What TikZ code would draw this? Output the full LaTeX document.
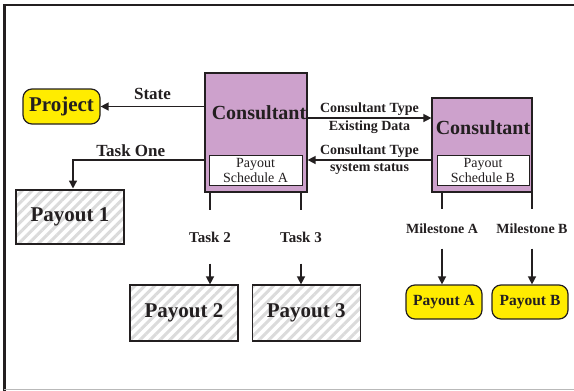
\documentclass[tikz,border=0pt]{standalone}
\usepackage{fontspec}
\setmainfont{Liberation Serif}
\usetikzlibrary{arrows.meta,patterns.meta,positioning}

\definecolor{consPurple}{RGB}{205,161,204}
\definecolor{payYellow}{RGB}{255,236,0}
\definecolor{ink}{RGB}{35,31,32}

\begin{document}
\begin{tikzpicture}[x=1pt,y=-1pt,>={Triangle[length=8pt,width=8pt]},color=ink,line width=1.4pt]
 \tikzstyle{cons}=[draw=ink,fill=consPurple,line width=1.2pt,inner sep=0pt]
 \tikzstyle{sched}=[draw=ink,fill=white,line width=1pt,inner sep=0pt,align=center,minimum height=30pt,font=\fontsize{14}{15}\selectfont]
 \tikzstyle{title}=[inner sep=0pt,font=\bfseries\fontsize{20}{24}\selectfont]
 \tikzstyle{goal}=[draw=ink,fill=payYellow,rounded corners=9pt,line width=1.2pt,inner sep=0pt,font=\bfseries]
 \tikzstyle{hatch}=[draw=ink,line width=1.2pt,inner sep=0pt,minimum width=108pt,pattern={Lines[angle=45,distance=7pt,line width=3pt]},pattern color=gray!28,font=\bfseries\fontsize{21}{24}\selectfont]
 \tikzstyle{lbl}=[inner sep=1pt,font=\bfseries\fontsize{17}{20}\selectfont]
 \tikzstyle{small}=[inner sep=1pt,font=\bfseries\fontsize{14}{16}\selectfont]
 \tikzstyle{task}=[inner sep=0pt,minimum height=52pt,font=\bfseries\fontsize{15}{18}\selectfont]
 \tikzstyle{mile}=[inner sep=0pt,minimum height=38pt,font=\bfseries\fontsize{14}{16}\selectfont]

\fill[white] (0,0) rectangle (574,391);
\useasboundingbox (0,0) rectangle (574,391);
\draw[line width=2.6pt] (574,5) -- (4.2,5) -- (4.2,391);
\draw[gray!55,line width=1pt] (4.2,389.5) -- (574,389.5);

% consultants
\node[cons,minimum width=102pt,minimum height=119pt] (consA) at (256,132.5) {};
\node[title]  (consAtxt) at (259,113)   {Consultant};
\node[sched,minimum width=93pt] (schedA) at (255.5,170) {Payout\\Schedule A};

\node[cons,minimum width=100pt,minimum height=94pt] (consB) at (482,145) {};
\node[title]  (consBtxt) at (483,127.5) {Consultant};
\node[sched,minimum width=92pt] (schedB) at (483,170) {Payout\\Schedule B};

% targets
\node[goal,minimum width=77pt,minimum height=35pt,font=\bfseries\fontsize{21}{24}\selectfont] (proj) at (61.5,106.5) {Project};
\node[hatch,minimum height=54pt] (pay1) at (70,217)  {Payout 1};
\node[hatch,minimum height=56pt] (pay2) at (184,313) {Payout 2};
\node[hatch,minimum height=56pt] (pay3) [right=13pt of pay2] {Payout 3};
\node[goal,minimum width=76pt,minimum height=34pt,font=\bfseries\fontsize{15.5}{18}\selectfont] (payA) at (444,302) {Payout A};
\node[goal,minimum width=76pt,minimum height=34pt,font=\bfseries\fontsize{15.5}{18}\selectfont] (payB) at (530,302) {Payout B};

% vertical labels
\node[task] (t2)  at (210,237) {Task 2};
\node[task] (t3)  at (301,237) {Task 3};
\node[mile] (msA) at (442,229) {Milestone A};
\node[mile] (msB) at (532,229) {Milestone B};

\draw[->] (consA.west |- proj.east) -- node[lbl,above=5pt] (stateLbl) {State} (proj.east);
\draw[->] ([yshift=-27.5pt]consA.west) -| node[lbl,above=2pt,pos=0.28] (oneLbl) {Task One} ([xshift=3pt]pay1.north);

\draw[->] (consA.east |- 0,118) -- node[small,above=1pt] (typeLbl) {Consultant Type}
                                    node[small,below=1pt] (dataLbl) {Existing Data} (consB.west |- 0,118);
\draw[->] (consB.west |- 0,160) -- node[small,above=1pt] (backLbl) {Consultant Type}
                                    node[small,below=2pt] (statLbl) {system status} (consA.east |- 0,160);

\draw (consA.south -| t2) -- (t2.north);
\draw[->] (t2.south) -- (t2 |- pay2.north);
\draw (consA.south -| t3) -- (t3.north);
\draw[->] (t3.south) -- (t3 |- pay3.north);
\draw (consB.south -| msA) -- (msA.north);
\draw[->] (msA.south) -- (msA |- payA.north);
\draw (consB.south -| msB) -- (msB.north);
\draw[->] (msB.south) -- (msB |- payB.north);
\end{tikzpicture}
\end{document}
